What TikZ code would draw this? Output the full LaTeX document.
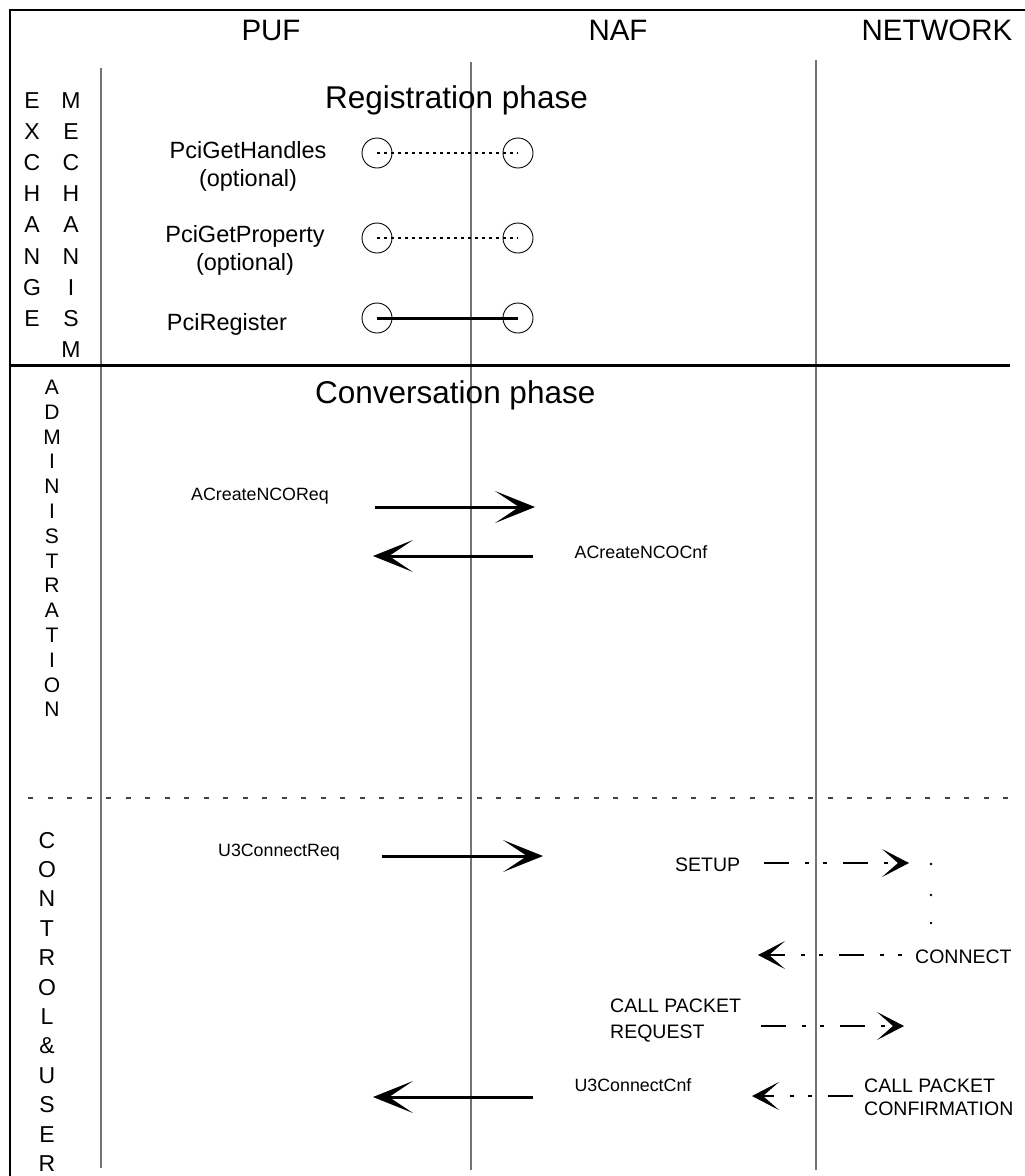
\documentclass[tikz,border=0pt]{standalone}
\usepackage{fontspec}
\setmainfont{Liberation Sans}
\usetikzlibrary{arrows.meta}
\begin{document}
\begin{tikzpicture}[x=1pt,y=-1pt,
  lane/.style={draw=black!55, line width=1.1pt},
  frame/.style={draw=black, line width=2.4pt},
  hdr/.style={font=\fontsize{29.5}{34}\selectfont, anchor=base, inner sep=0pt},
  phasetitle/.style={font=\fontsize{31.5}{36}\selectfont, anchor=base west, inner sep=0pt},
  vletter/.style={font=\fontsize{23}{26}\selectfont, anchor=base, inner sep=0pt},
  sletter/.style={font=\fontsize{21}{24}\selectfont, anchor=base, inner sep=0pt},
  prim/.style={font=\fontsize{23.5}{28}\selectfont, anchor=base, inner sep=0pt},
  msg/.style={font=\fontsize{17.8}{21}\selectfont, anchor=base, inner sep=0pt},
  netmsg/.style={font=\fontsize{19.5}{23}\selectfont, anchor=base west, inner sep=0pt},
  endpoint/.style={circle, draw, line width=0.9pt, minimum size=30pt, inner sep=0pt},
  optlink/.style={line width=2.4pt, dash pattern=on 2.5pt off 4.5pt},
  reglink/.style={line width=3pt},
  primarrow/.style={line width=3pt, -{Stealth[length=40pt, width=32pt, inset=24pt, line width=1.2pt]}},
  netarrow/.style={line width=1.1pt, dash pattern=on 25pt off 16pt on 4pt off 14pt on 4pt off 16pt,
    -{Stealth[length=27pt, width=28pt, inset=16pt, line width=1pt]}},
  gapdot/.style={circle, fill, inner sep=0pt, minimum size=2.6pt},
]
\useasboundingbox (0,0) rectangle (1025,1176);
\clip (0,0) rectangle (1025,1176);

% outer frame (top and left edges)
\coordinate (frame-tl) at (10,10);
\coordinate (frame-tr) at (1025,10);
\coordinate (frame-bl) at (10,1176);
\draw[frame] (frame-bl) -- (frame-tl) -- (frame-tr);

% lifelines
\coordinate (side-top) at (101,68);   \coordinate (side-bot) at (101,1168);
\coordinate (puf-top)  at (471,62);   \coordinate (puf-bot)  at (471,1170);
\coordinate (naf-top)  at (816,60);   \coordinate (naf-bot)  at (816,1170);
\draw[lane] (side-top) -- (side-bot);
\draw[lane] (puf-top) -- (puf-bot);
\draw[lane] (naf-top) -- (naf-bot);

% phase separators
\coordinate (sep-l) at (10,365);  \coordinate (sep-r) at (1010,365);
\draw[line width=3pt] (sep-l) -- (sep-r);
\coordinate (div-l) at (28,798);  \coordinate (div-r) at (1010,798);
\draw[black!75, line width=1.2pt, dash pattern=on 5pt off 14.5pt] (div-l) -- (div-r);

% column headings
\node[hdr] (h-puf) at (271,40) {PUF};
\node[hdr] (h-naf) at (618,40) {NAF};
\node[hdr] (h-net) at (937,40) {NETWORK};

% phase titles
\node[phasetitle] (t-reg)  at (325,108) {Registration phase};
\node[phasetitle] (t-conv) at (315,403) {Conversation phase};

% side captions, one letter per row
\foreach \ch [count=\i from 0] in {E,X,C,H,A,N,G,E}
  \node[vletter] (exch-\i) at (32,{108+31.2*\i}) {\ch};
\foreach \ch [count=\i from 0] in {M,E,C,H,A,N,I,S,M}
  \node[vletter] (mech-\i) at (71,{108+31.2*\i}) {\ch};
\foreach \ch [count=\i from 0] in {A,D,M,I,N,I,S,T,R,A,T,I,O,N}
  \node[sletter] (admin-\i) at (52,{394.5+24.8*\i}) {\ch};
\foreach \ch [count=\i from 0] in {C,O,N,T,R,O,L,\&,U,S,E,R}
  \node[vletter] (ctrl-\i) at (47,{848+29.4*\i}) {\ch};

% registration exchange
\node[prim] (l-gh)   at (248,158) {PciGetHandles};
\node[prim] (l-gh2)  at (248,186) {(optional)};
\node[prim] (l-gp)   at (245,242) {PciGetProperty};
\node[prim] (l-gp2)  at (245,270) {(optional)};
\node[prim] (l-reg)  at (227,330) {PciRegister};

\node[endpoint] (gh-puf)  at (377,153) {};
\node[endpoint] (gh-naf)  at (518,153) {};
\node[endpoint] (gp-puf)  at (377,238) {};
\node[endpoint] (gp-naf)  at (518,238) {};
\node[endpoint] (reg-puf) at (377,318) {};
\node[endpoint] (reg-naf) at (518,318) {};
\draw[optlink] (gh-puf.center) -- (gh-naf.center);
\draw[optlink] (gp-puf.center) -- (gp-naf.center);
\draw[reglink] (reg-puf.center) -- (reg-naf.center);

% administration primitives
\node[msg] (l-acr) at (260,500) {ACreateNCOReq};
\node[msg] (l-acc) at (641,558) {ACreateNCOCnf};
\coordinate (acr-a) at (375,507); \coordinate (acr-b) at (535,507);
\coordinate (acc-a) at (533,556); \coordinate (acc-b) at (373,556);
\draw[primarrow] (acr-a) -- (acr-b);
\draw[primarrow] (acc-a) -- (acc-b);

% control and user primitives
\node[msg] (l-ucr) at (279,856)  {U3ConnectReq};
\node[msg] (l-ucc) at (633,1091) {U3ConnectCnf};
\coordinate (ucr-a) at (382,856);  \coordinate (ucr-b) at (543,856);
\coordinate (ucc-a) at (533,1097); \coordinate (ucc-b) at (373,1097);
\draw[primarrow] (ucr-a) -- (ucr-b);
\draw[primarrow] (ucc-a) -- (ucc-b);

% network signalling
\node[netmsg] (l-setup) at (675,871)  {SETUP};
\node[netmsg] (l-conn)  at (915,963)  {CONNECT};
\node[netmsg] (l-cpr1)  at (610,1012) {CALL PACKET};
\node[netmsg] (l-cpr2)  at (610,1038) {REQUEST};
\node[netmsg] (l-cpc1)  at (864,1092) {CALL PACKET};
\node[netmsg] (l-cpc2)  at (864,1115) {CONFIRMATION};

\coordinate (setup-a) at (764,863);  \coordinate (setup-b) at (909,863);
\coordinate (conn-a)  at (902,955);  \coordinate (conn-b)  at (758,955);
\coordinate (cpr-a)   at (761,1026); \coordinate (cpr-b)   at (904,1026);
\coordinate (cpc-a)   at (853,1096); \coordinate (cpc-b)   at (752,1096);
\draw[netarrow] (setup-a) -- (setup-b);
\draw[netarrow, dash phase=41pt] (conn-a) -- (conn-b);
\draw[netarrow] (cpr-a) -- (cpr-b);
\draw[netarrow] (cpc-a) -- (cpc-b);

\node[gapdot] (wait-1) at (931,864) {};
\node[gapdot] (wait-2) at (931,895) {};
\node[gapdot] (wait-3) at (931,923) {};
\end{tikzpicture}
\end{document}
